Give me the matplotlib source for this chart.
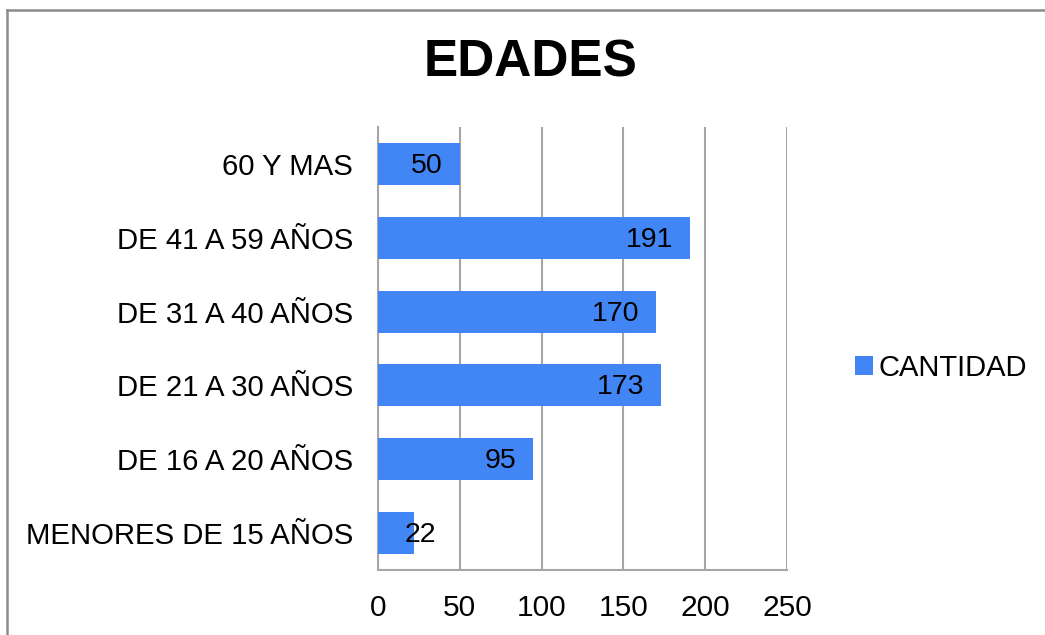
import matplotlib
matplotlib.use("Agg")
import matplotlib.pyplot as plt
from matplotlib.lines import Line2D
from matplotlib.patches import Patch

categories = ["MENORES DE 15 AÑOS", "DE 16 A 20 AÑOS", "DE 21 A 30 AÑOS",
              "DE 31 A 40 AÑOS", "DE 41 A 59 AÑOS", "60 Y MAS"]
cantidad = [22, 95, 173, 170, 191, 50]
xticks = [0, 50, 100, 150, 200, 250]
title = "EDADES"
series_name = "CANTIDAD"

plt.rcParams['font.family'] = ['Liberation Sans', 'DejaVu Sans']
W, H = 1045, 635
fig = plt.figure(figsize=(W / 100, H / 100), dpi=100)
ax = fig.add_axes([378 / W, 1 - 570 / H, (787 - 378) / W, (570 - 127) / H])

bar_color = '#4285F4'
grid_color = '#A6A6A6'
y = list(range(len(categories)))
ax.barh(y, cantidad, height=0.57, color=bar_color, zorder=3)

ax.set_xlim(0, 250)
ax.set_ylim(-0.5, len(categories) - 0.5)
ax.set_xticks(xticks)
ax.set_xticklabels([str(t) for t in xticks], fontsize=21.5)
ax.set_yticks(y)
ax.set_yticklabels(categories, fontsize=21.2)
ax.tick_params(axis='both', length=0, colors='#000000')
ax.tick_params(axis='x', pad=17)
ax.tick_params(axis='y', pad=18)

ax.grid(axis='x', color=grid_color, linewidth=1.5, zorder=0)
for s in ['top', 'right']:
    ax.spines[s].set_visible(False)
for s in ['left', 'bottom']:
    ax.spines[s].set_color(grid_color)
    ax.spines[s].set_linewidth(1.5)

for yi, v in zip(y, cantidad):
    if v < 30:
        ax.annotate(str(v), xy=(0, yi), xytext=(27, -2), textcoords='offset pixels',
                    ha='left', va='center', fontsize=20.5, color='black', zorder=4)
    else:
        ax.annotate(str(v), xy=(v, yi), xytext=(-17, -2), textcoords='offset pixels',
                    ha='right', va='center', fontsize=20.5, color='black', zorder=4)

fig.text(531 / W, 1 - 63 / H, title, ha='center', va='center',
         fontsize=37, fontweight='bold')

handle = Patch(facecolor=bar_color, edgecolor='none')
fig.legend([handle], [series_name], loc='center left',
           bbox_to_anchor=(855 / W, 1 - 368 / H), frameon=False,
           fontsize=21, handlelength=0.6, handleheight=0.6,
           handletextpad=0.22, borderaxespad=0, borderpad=0)

# chart border (top and left edges visible)
fig.add_artist(Line2D([6.5 / W, 1.0], [1 - 9.5 / H, 1 - 9.5 / H],
                      transform=fig.transFigure, color='#8C8C8C', linewidth=1.8))
fig.add_artist(Line2D([6.5 / W, 6.5 / W], [0, 1 - 9.5 / H],
                      transform=fig.transFigure, color='#8C8C8C', linewidth=1.8))

fig.savefig("out.png", dpi=100, facecolor='white')
